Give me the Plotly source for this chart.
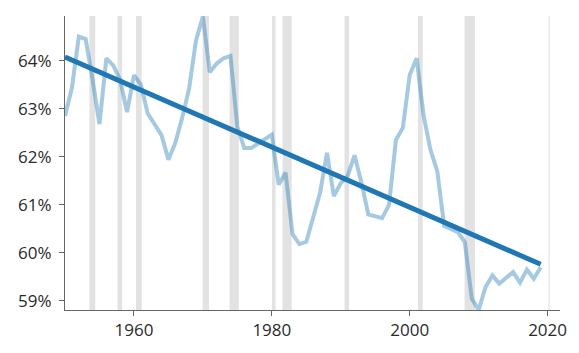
import numpy as np
import plotly.graph_objects as go

years = list(range(1950, 2020))
share = [62.85, 63.43, 64.50, 64.45, 63.60, 62.68, 64.05, 63.90, 63.60, 62.93,
         63.70, 63.50, 62.90, 62.66, 62.45, 61.94, 62.29, 62.81, 63.42, 64.42,
         64.92, 63.76, 63.94, 64.05, 64.10, 62.63, 62.18, 62.18, 62.27, 62.35,
         62.46, 61.42, 61.67, 60.39, 60.18, 60.23, 60.77, 61.25, 62.08, 61.18,
         61.45, 61.60, 62.03, 61.46, 60.80, 60.75, 60.72, 61.00, 62.35, 62.60,
         63.70, 64.05, 62.87, 62.15, 61.70, 60.56, 60.50, 60.43, 60.22, 59.05,
         58.81, 59.29, 59.53, 59.36, 59.48, 59.60, 59.38, 59.65, 59.46, 59.70]

rec_start = [1953.54, 1957.62, 1960.29, 1969.96, 1973.88, 1980.04, 1981.54,
             1990.54, 2001.21, 2007.96, 2020.12]
rec_end = [1954.38, 1958.29, 1961.13, 1970.88, 1975.21, 1980.54, 1982.88,
           1991.21, 2001.88, 2009.46, 2020.29]

ytick_vals = [59, 60, 61, 62, 63, 64]
ytick_text = ["59%", "60%", "61%", "62%", "63%", "64%"]
xtick_vals = [1960, 1980, 2000, 2020]

slope, intercept = np.polyfit(years, share, 1)
trend_x = [years[0], years[-1]]
trend_y = [intercept + slope * x for x in trend_x]

fig = go.Figure()
fig.add_trace(go.Scatter(x=years, y=share, mode="lines",
                         line=dict(color="rgba(31,119,180,0.4)", width=4),
                         hoverinfo="skip"))
fig.add_trace(go.Scatter(x=trend_x, y=trend_y, mode="lines",
                         line=dict(color="#1f77b4", width=5),
                         hoverinfo="skip"))

shapes = []
for s, e in zip(rec_start, rec_end):
    shapes.append(dict(type="rect", xref="x", yref="paper", x0=s, x1=e, y0=0, y1=1,
                       fillcolor="#e2e2e2", line=dict(width=0), layer="below"))

fig.update_layout(
    width=579, height=353,
    margin=dict(l=65, r=13, t=16, b=42),
    paper_bgcolor="white", plot_bgcolor="white",
    showlegend=False,
    shapes=shapes,
    font=dict(family="Open Sans", size=17, color="#2a2a2a"),
    xaxis=dict(range=[1950, 2021.8], tickvals=xtick_vals, showgrid=False, zeroline=False,
               showline=True, linecolor="#666666", linewidth=1,
               ticks="outside", ticklen=5, tickcolor="#666666"),
    yaxis=dict(range=[58.81, 64.93], tickvals=ytick_vals, ticktext=ytick_text,
               showgrid=False, zeroline=False, showline=True, linecolor="#666666",
               linewidth=1, ticks="outside", ticklen=5, tickcolor="#666666",
               ticklabelstandoff=4),
)

fig.write_html("out.html")
